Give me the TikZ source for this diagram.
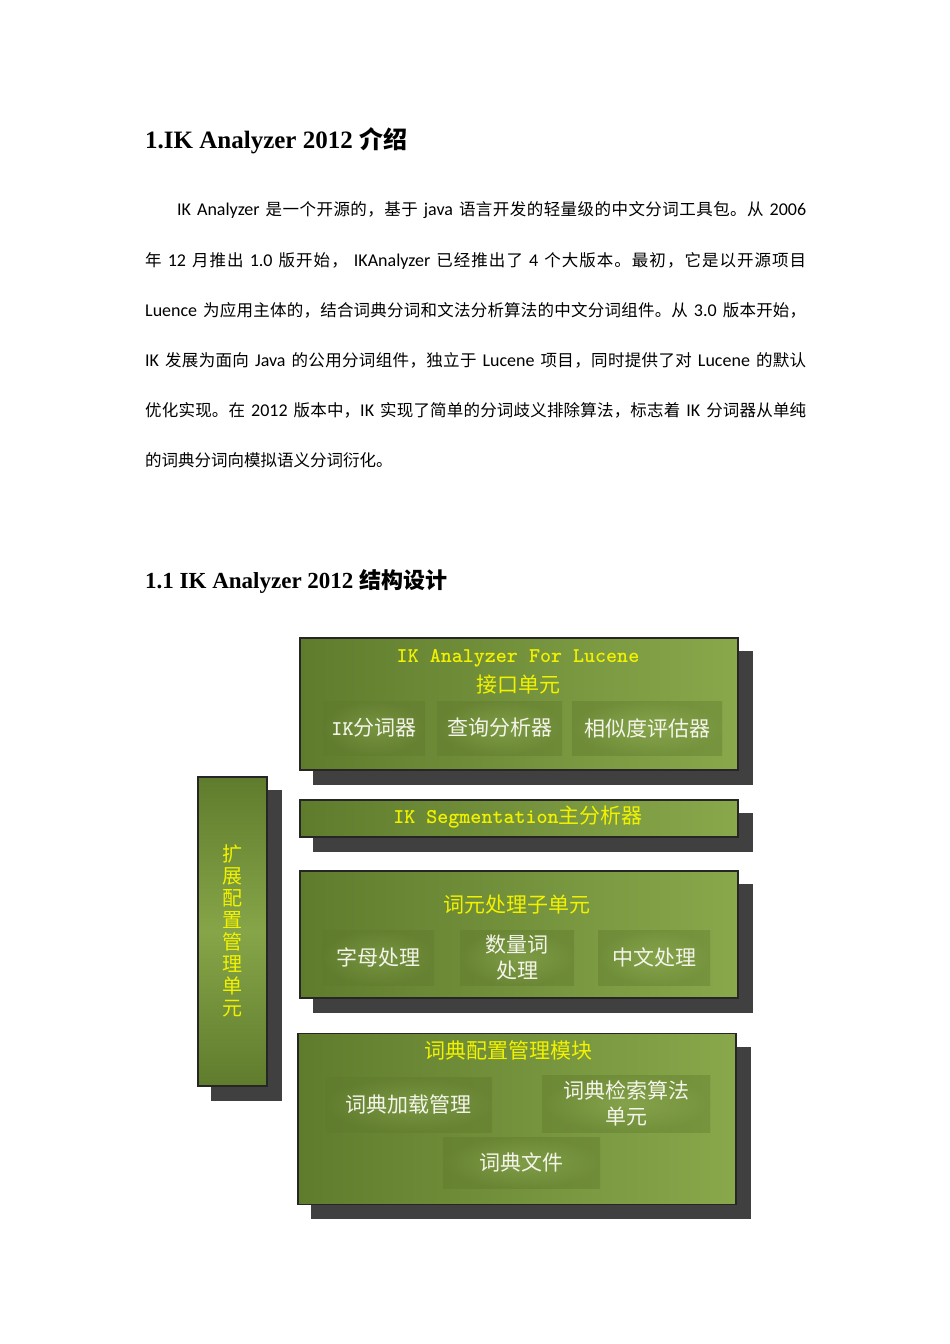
\documentclass[tikz,border=0pt]{standalone}
\usepackage{fontspec}
\setmainfont{Noto Sans CJK SC}
\newfontfamily\cjk{Noto Sans CJK SC}
\newfontfamily\latn{Carlito}
\newfontfamily\sern{Liberation Serif}
\usetikzlibrary{backgrounds,calc}
\newcount\cjkcc
\cjkcc="4E00
\loop
  \XeTeXcharclass\cjkcc=1
  \advance\cjkcc by 1
\ifnum\cjkcc<"A000 \repeat
\XeTeXcharclass"3002=3
\XeTeXcharclass"FF0C=3
\XeTeXinterchartokenstate=1
\XeTeXinterchartoks 1 1 = {\hskip 0pt plus 1pt\relax}
\XeTeXinterchartoks 1 3 = {\hskip 0pt plus 1pt\relax}
\XeTeXinterchartoks 3 1 = {\hskip 0pt plus 1pt\relax}

\definecolor{shadowc}{HTML}{404040}
\definecolor{pdark}{HTML}{5F7C2D}
\definecolor{plight}{HTML}{89A84B}
\definecolor{pmid}{HTML}{86A548}
\definecolor{subin}{HTML}{8FAC56}
\definecolor{subout}{HTML}{5E782C}
\definecolor{ylw}{HTML}{F2F200}
\definecolor{wht}{HTML}{F4F4EA}

\newcommand\lt[1]{{\latn\fontsize{18}{20}\selectfont #1}}
\newcommand\mn[1]{{\ttfamily\bfseries\fontsize{21}{24}\selectfont #1}}
\newcommand\jline[2]{\hbox to #1{\spaceskip=6pt plus 0.1pt\relax #2}}

\begin{document}
\begin{tikzpicture}[x=1pt,y=-1pt,
  bodyline/.style={anchor=west, inner sep=0pt, text=black, font=\cjk\fontsize{16.5}{18}\selectfont},
  heading/.style={anchor=west, inner sep=0pt, text=black},
  panel/.style={draw=black!85, line width=1.2pt, rectangle, inner sep=0pt, left color=pdark, right color=plight},
  vpanel/.style={draw=black!85, line width=1.2pt, rectangle, inner sep=0pt, top color=pdark, bottom color=pdark, middle color=pmid},
  subbox/.style={rectangle, inner sep=0pt, shading=radial, inner color=subin, outer color=subout, fill opacity=0.4, text opacity=1, text=wht, align=center, font=\cjk\fontsize{21}{26}\selectfont},
  ptitle/.style={inner sep=0pt, text=ylw, align=center, font=\cjk\fontsize{21}{27}\selectfont},
  shadowbox/.style={fill=shadowc}
]
\useasboundingbox (0,0) rectangle (950,1344);

% headings
\node[heading] (h1) at (145,141) {{\sern\bfseries\fontsize{25}{28}\selectfont 1.IK Analyzer 2012 }{\cjk\bfseries\fontsize{24}{28}\selectfont 介绍}};
\node[heading] (h2) at (145,582) {{\sern\bfseries\fontsize{23}{26}\selectfont 1.1 IK Analyzer 2012 }{\cjk\bfseries\fontsize{22}{26}\selectfont 结构设计}};

% paragraph
\node[bodyline] (l1) at (177,210) {\jline{629pt}{\lt{IK Analyzer} 是一个开源的，基于 \lt{java} 语言开发的轻量级的中文分词工具包。从 \lt{2006}}};
\node[bodyline] (l2) at (145,261) {\jline{661pt}{年 \lt{12} 月推出 \lt{1.0} 版开始， \lt{IKAnalyzer} 已经推出了 \lt{4} 个大版本。最初，它是以开源项目}};
\node[bodyline] (l3) at (145,310) {\jline{661pt}{\lt{Luence} 为应用主体的，结合词典分词和文法分析算法的中文分词组件。从 \lt{3.0} 版本开始，}};
\node[bodyline] (l4) at (145,360) {\jline{661pt}{\lt{IK} 发展为面向 \lt{Java} 的公用分词组件，独立于 \lt{Lucene} 项目，同时提供了对 \lt{Lucene} 的默认}};
\node[bodyline] (l5) at (145,410) {\jline{661pt}{优化实现。在 \lt{2012} 版本中，\lt{IK} 实现了简单的分词歧义排除算法，标志着 \lt{IK} 分词器从单纯}};
\node[bodyline] (l6) at (145,460) {的词典分词向模拟语义分词衍化。};

% panels
\node[panel, minimum width=438, minimum height=132] (A) at (519,704) {};
\node[panel, minimum width=438, minimum height=37] (B) at (519,818.5) {};
\node[panel, minimum width=438, minimum height=127] (C) at (519,934.5) {};
\node[panel, minimum width=438, minimum height=171] (D) at (517,1119) {};
\node[vpanel, minimum width=69, minimum height=309] (E) at (232.5,931.5) {};

\begin{scope}[on background layer]
  \foreach \p in {A,B,C,D,E}
    \fill[shadowbox] ($(\p.north west)+(14,14)$) rectangle ($(\p.south east)+(14,14)$);
\end{scope}

% panel A
\node[ptitle] (Ta) at (518,658) {\mn{IK Analyzer For Lucene}};
\node[ptitle] (Ta2) at (518,685) {接口单元};
\node[subbox, minimum width=102, minimum height=54] (a1) at (374,728) {\mn{IK}分词器};
\node[subbox, minimum width=125, minimum height=54] (a2) at (499.5,728) {查询分析器};
\node[subbox, minimum width=150, minimum height=54] (a3) at (647,728) {相似度评估器};

% panel B
\node[ptitle] (Tb) at (518,817) {\mn{IK Segmentation}主分析器};

% panel C
\node[ptitle] (Tc) at (517,905) {词元处理子单元};
\node[subbox, minimum width=112, minimum height=55] (c1) at (378,957.5) {字母处理};
\node[subbox, minimum width=114, minimum height=55] (c2) at (517,957.5) {数量词\\处理};
\node[subbox, minimum width=112, minimum height=55] (c3) at (654,957.5) {中文处理};

% panel D
\node[ptitle] (Td) at (508,1050) {词典配置管理模块};
\node[subbox, minimum width=167, minimum height=55] (d1) at (408.5,1104.5) {词典加载管理};
\node[subbox, minimum width=168, minimum height=57] (d2) at (626,1103.5) {词典检索算法\\单元};
\node[subbox, minimum width=157, minimum height=51] (d3) at (521.5,1162.5) {词典文件};

% panel E
\node[ptitle, font=\cjk\fontsize{20}{22}\selectfont] (Te) at (232,931) {扩\\展\\配\\置\\管\\理\\单\\元};
\end{tikzpicture}
\end{document}
